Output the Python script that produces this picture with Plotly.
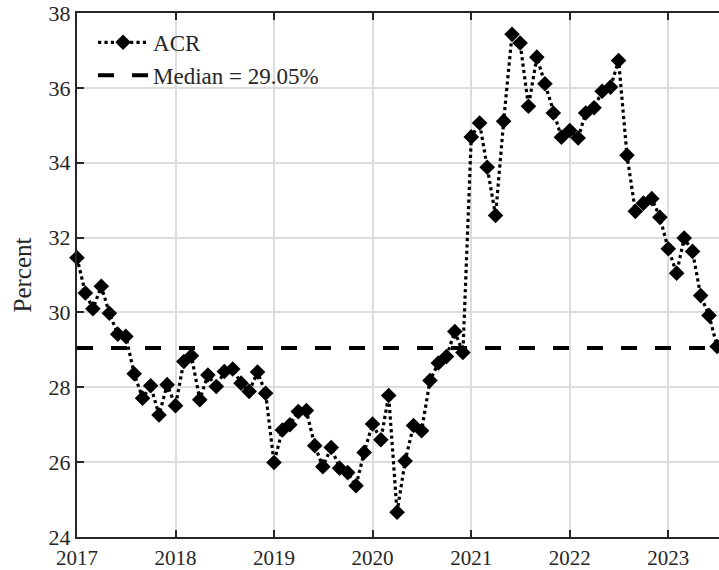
import pandas as pd
import plotly.graph_objects as go

# Monthly dates Jan 2017 .. Jul 2023
dates = pd.date_range("2017-01-01", "2023-07-01", freq="MS")

acr = [
    31.46, 30.52, 30.10, 30.70, 29.98, 29.42, 29.36, 28.36, 27.71, 28.04, 27.26, 28.07,  # 2017
    27.51, 28.69, 28.84, 27.67, 28.33, 28.02, 28.42, 28.49, 28.11, 27.89, 28.41, 27.84,  # 2018
    25.99, 26.86, 27.00, 27.35, 27.38, 26.44, 25.88, 26.39, 25.84, 25.72, 25.37, 26.26,  # 2019
    27.02, 26.60, 27.78, 24.66, 26.03, 26.98, 26.84, 28.18, 28.65, 28.82, 29.49, 28.93,  # 2020
    34.69, 35.06, 33.88, 32.59, 35.11, 37.43, 37.20, 35.51, 36.82, 36.11, 35.33, 34.68,  # 2021
    34.86, 34.66, 35.33, 35.47, 35.91, 36.02, 36.73, 34.20, 32.70, 32.92, 33.04, 32.54,  # 2022
    31.70, 31.05, 31.99, 31.63, 30.45, 29.92, 29.09,                                      # 2023
]
median_value = 29.05
x_range = ["2017-01-01", "2023-07-08"]
y_range = [24, 38]
y_ticks = [24, 26, 28, 30, 32, 34, 36, 38]
x_ticks = ["2017-01-01", "2018-01-01", "2019-01-01", "2020-01-01",
           "2021-01-01", "2022-01-01", "2023-01-01"]
x_ticklabels = ["2017", "2018", "2019", "2020", "2021", "2022", "2023"]

FONT = "Liberation Serif"
AX = "#262626"
GRID = "#dcdcdc"

fig = go.Figure()
fig.add_trace(go.Scatter(
    x=dates, y=acr, mode="lines+markers", name="ACR",
    line=dict(color="black", width=3.2, dash="dot"),
    marker=dict(symbol="diamond", size=12, color="black"),
    cliponaxis=False,
))
fig.add_trace(go.Scatter(
    x=[x_range[0], x_range[1]], y=[median_value, median_value], mode="lines",
    name="Median = 29.05%",
    line=dict(color="black", width=4, dash="16px,18px"),
))

fig.update_layout(
    width=719, height=570,
    margin=dict(l=77, r=0, t=13, b=33),
    paper_bgcolor="white", plot_bgcolor="white",
    font=dict(family=FONT, size=22, color=AX),
    showlegend=True,
    legend=dict(
        x=0.025, y=0.985, xanchor="left", yanchor="top",
        bgcolor="rgba(0,0,0,0)", borderwidth=0,
        font=dict(family=FONT, size=23, color=AX),
        itemwidth=50, tracegroupgap=0,
    ),
    xaxis=dict(
        type="date", range=x_range,
        tickmode="array", tickvals=x_ticks, ticktext=x_ticklabels,
        showgrid=True, gridcolor=GRID, gridwidth=2,
        showline=True, linecolor=AX, linewidth=2, mirror="ticks",
        ticks="inside", ticklen=7, tickwidth=2, tickcolor=AX,
        zeroline=False, ticklabelstandoff=1, automargin=False,
        tickfont=dict(family=FONT, size=21, color=AX),
    ),
    yaxis=dict(
        range=y_range, tickmode="array", tickvals=y_ticks,
        showgrid=True, gridcolor=GRID, gridwidth=2,
        showline=True, linecolor=AX, linewidth=2,
        ticks="inside", ticklen=7, tickwidth=2, tickcolor=AX,
        zeroline=False, automargin=False,
        tickfont=dict(family=FONT, size=22, color=AX),
        title=dict(text="Percent", font=dict(family=FONT, size=25, color=AX), standoff=10),
    ),
)

fig.write_html("out.html")
